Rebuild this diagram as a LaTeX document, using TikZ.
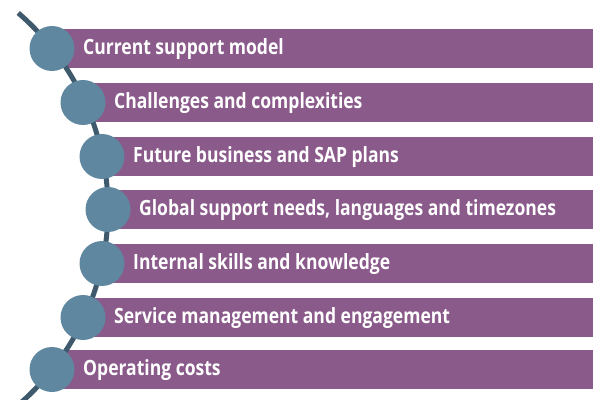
\documentclass[tikz,border=0pt]{standalone}
\usepackage{fontspec}
\setmainfont{Open Sans}[FakeStretch=0.835]
\definecolor{barpurple}{HTML}{8A5A8B}
\definecolor{dotblue}{HTML}{5F87A0}
\definecolor{linedark}{HTML}{3E5A6C}
\begin{document}
\begin{tikzpicture}[x=1pt,y=1pt,
  bar/.style={fill=barpurple,draw=none},
  dot/.style={circle,fill=dotblue,draw=none,minimum size=45pt,inner sep=0pt},
  label/.style={anchor=base west,text=white,font=\bfseries\fontsize{21}{25}\selectfont,inner sep=0pt}]
\useasboundingbox (0,0) rectangle (593,399);
\clip (0,0) rectangle (593,399);
% bars
\foreach \cx/\cy/\t [count=\i] in {
  52/350.5/{Current support model},
  83/296.5/{Challenges and complexities},
  102/242.5/{Future business and SAP plans},
  108/189.5/{Global support needs, languages and timezones},
  102/135.5/{Internal skills and knowledge},
  83/81.5/{Service management and engagement},
  52/29.5/{Operating costs}}{
  \fill[bar] (\cx+10,\cy-19.5) rectangle (593,\cy+19.5);
  \node[label] (t\i) at (\cx+31,\cy-6) {\t};
  \coordinate (c\i) at (\cx,\cy);
}
% connecting arc
\coordinate (O) at (-151,190);
\draw[linedark,line width=5pt] (O) ++(49.2:259) arc[start angle=49.2,end angle=-50,radius=259];
% dots
\foreach \i in {1,...,7}{
  \node[dot] (d\i) at (c\i) {};
}
\end{tikzpicture}
\end{document}
